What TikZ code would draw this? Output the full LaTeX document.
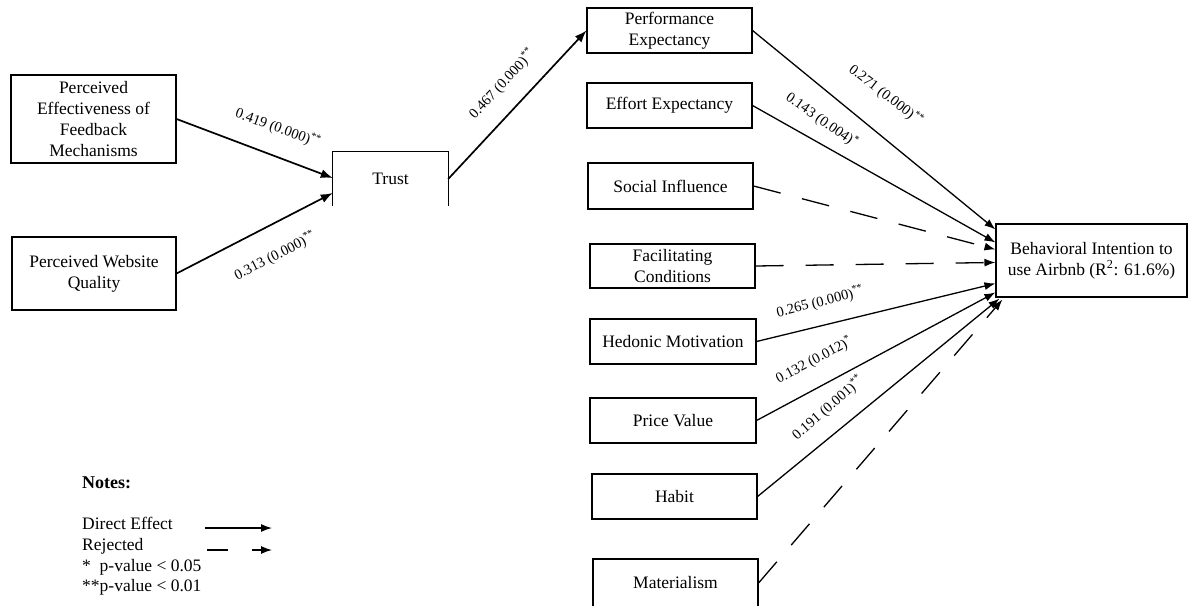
\documentclass[tikz,border=0pt]{standalone}
\usepackage{fontspec}
\setmainfont{Liberation Serif}
\usetikzlibrary{arrows.meta,calc}

\tikzset{
  box/.style={draw, line width=1.1pt, align=center, inner sep=2pt,
    font=\fontsize{17.5}{20.7}\selectfont},
  coef/.style={font=\fontsize{14.5}{16}\selectfont, inner sep=0pt},
  path/.style={line width=1.3pt, -{Latex[length=11pt,width=8pt]}},
  thickpath/.style={line width=1.7pt, -{Latex[length=12pt,width=9pt]}},
  rejected/.style={path, dash pattern=on 28pt off 22pt},
  note/.style={anchor=west, inner sep=0pt, font=\fontsize{17.5}{20}\selectfont}
}

\begin{document}
\begin{tikzpicture}[x=1pt,y=-1pt]
\useasboundingbox (0,0) rectangle (1196,605);

% antecedents of trust
\node[box, minimum width=165, minimum height=88] (pefm) at (93.5,119)
  {Perceived\\Effectiveness of\\Feedback\\Mechanisms};
\node[box, minimum width=164, minimum height=73] (pwq) at (94,273.5)
  {Perceived Website\\Quality};

% trust (open at the bottom)
\node[minimum width=115, minimum height=54, font=\fontsize{17.5}{20.7}\selectfont]
  (trust) at (390.5,179) {Trust};
\draw[line width=1.1pt] (trust.south west) -- (trust.north west)
  -- (trust.north east) -- (trust.south east);

% predictors of behavioural intention
\node[box, minimum width=165, minimum height=45] (pe) at (669.5,30.5) {Performance\\Expectancy};
\node[box, minimum width=165, minimum height=45] (ee) at (669.5,105.5) {Effort Expectancy};
\node[box, minimum width=165, minimum height=46] (si) at (670.5,186) {Social Influence};
\node[box, minimum width=165, minimum height=44] (fc) at (672.5,266) {Facilitating\\Conditions};
\node[box, minimum width=166, minimum height=45] (hm) at (673,341.5) {Hedonic Motivation};
\node[box, minimum width=166, minimum height=45] (pv) at (673,420.5) {Price Value};
\node[box, minimum width=165, minimum height=45] (hab) at (674.5,496.5) {Habit};
\node[box, minimum width=165, minimum height=48] (mat) at (675.5,583) {Materialism};

% outcome
\node[box, minimum width=191, minimum height=73] (bi) at (1091.5,260.5)
  {Behavioral Intention to\\use Airbnb (R\textsuperscript{2}: 61.6\%)};

% paths into trust and from trust
\draw[thickpath] (pefm.east) -- ([yshift=1pt]trust.west);
\draw[thickpath] (pwq.east) -- ([yshift=-14pt]trust.west);
\draw[thickpath] (trust.east) -- (pe.west);

% paths into behavioural intention
\draw[path] (pe.east) -- ([yshift=-6pt]bi.north west);
\draw[path] (ee.east) -- ([yshift=-19pt]bi.north west);
\draw[rejected] (si.east) -- ([yshift=-26pt]bi.north west);
\draw[rejected] (fc.east) -- ([yshift=-39pt]bi.north west);
\draw[path] (hm.east) -- ([yshift=-60pt]bi.north west);
\draw[path] (pv.east) -- ([yshift=-69pt]bi.north west);
\draw[path] (hab.east) -- ([xshift=4pt,yshift=-1pt]bi.south west);
\draw[rejected] (mat.east) -- ([xshift=7pt,yshift=-2pt]bi.south west);

% path coefficients
\node[coef, rotate=-20] (c419) at (278,128) {0.419 (0.000)\textsuperscript{**}};
\node[coef, rotate=27] (c313) at (275,256) {0.313 (0.000)\textsuperscript{**}};
\node[coef, rotate=47] (c467) at (502,84) {0.467 (0.000)\textsuperscript{**}};
\node[coef, rotate=-38] (c271) at (886,95) {0.271 (0.000)\textsuperscript{**}};
\node[coef, rotate=-35] (c143) at (822,120) {0.143 (0.004)\textsuperscript{*}};
\node[coef, rotate=14] (c265) at (820,302) {0.265 (0.000)\textsuperscript{**}};
\node[coef, rotate=28] (c132) at (814,360) {0.132 (0.012)\textsuperscript{*}};
\node[coef, rotate=41] (c191) at (828,408) {0.191 (0.001)\textsuperscript{**}};

% legend
\node[note, font=\fontsize{18}{20}\bfseries] (notes) at (82,483) {Notes:};
\node[note] (ldirect) at (82,523) {Direct Effect};
\node[note] (lrej) at (82,546) {Rejected};
\node[note] (lp05) at (82,567) {*\ \ p-value < 0.05};
\node[note] (lp01) at (82,587) {**p-value < 0.01};
\coordinate (d1) at (205,528);
\coordinate (d2) at (272,528);
\coordinate (r1) at (207,550);
\coordinate (r2) at (272,550);
\draw[line width=1.3pt, -{Latex[length=11pt,width=8pt]}] (d1) -- (d2);
\draw[line width=1.3pt, dash pattern=on 21pt off 24pt, -{Latex[length=11pt,width=8pt]}] (r1) -- (r2);
\end{tikzpicture}
\end{document}
